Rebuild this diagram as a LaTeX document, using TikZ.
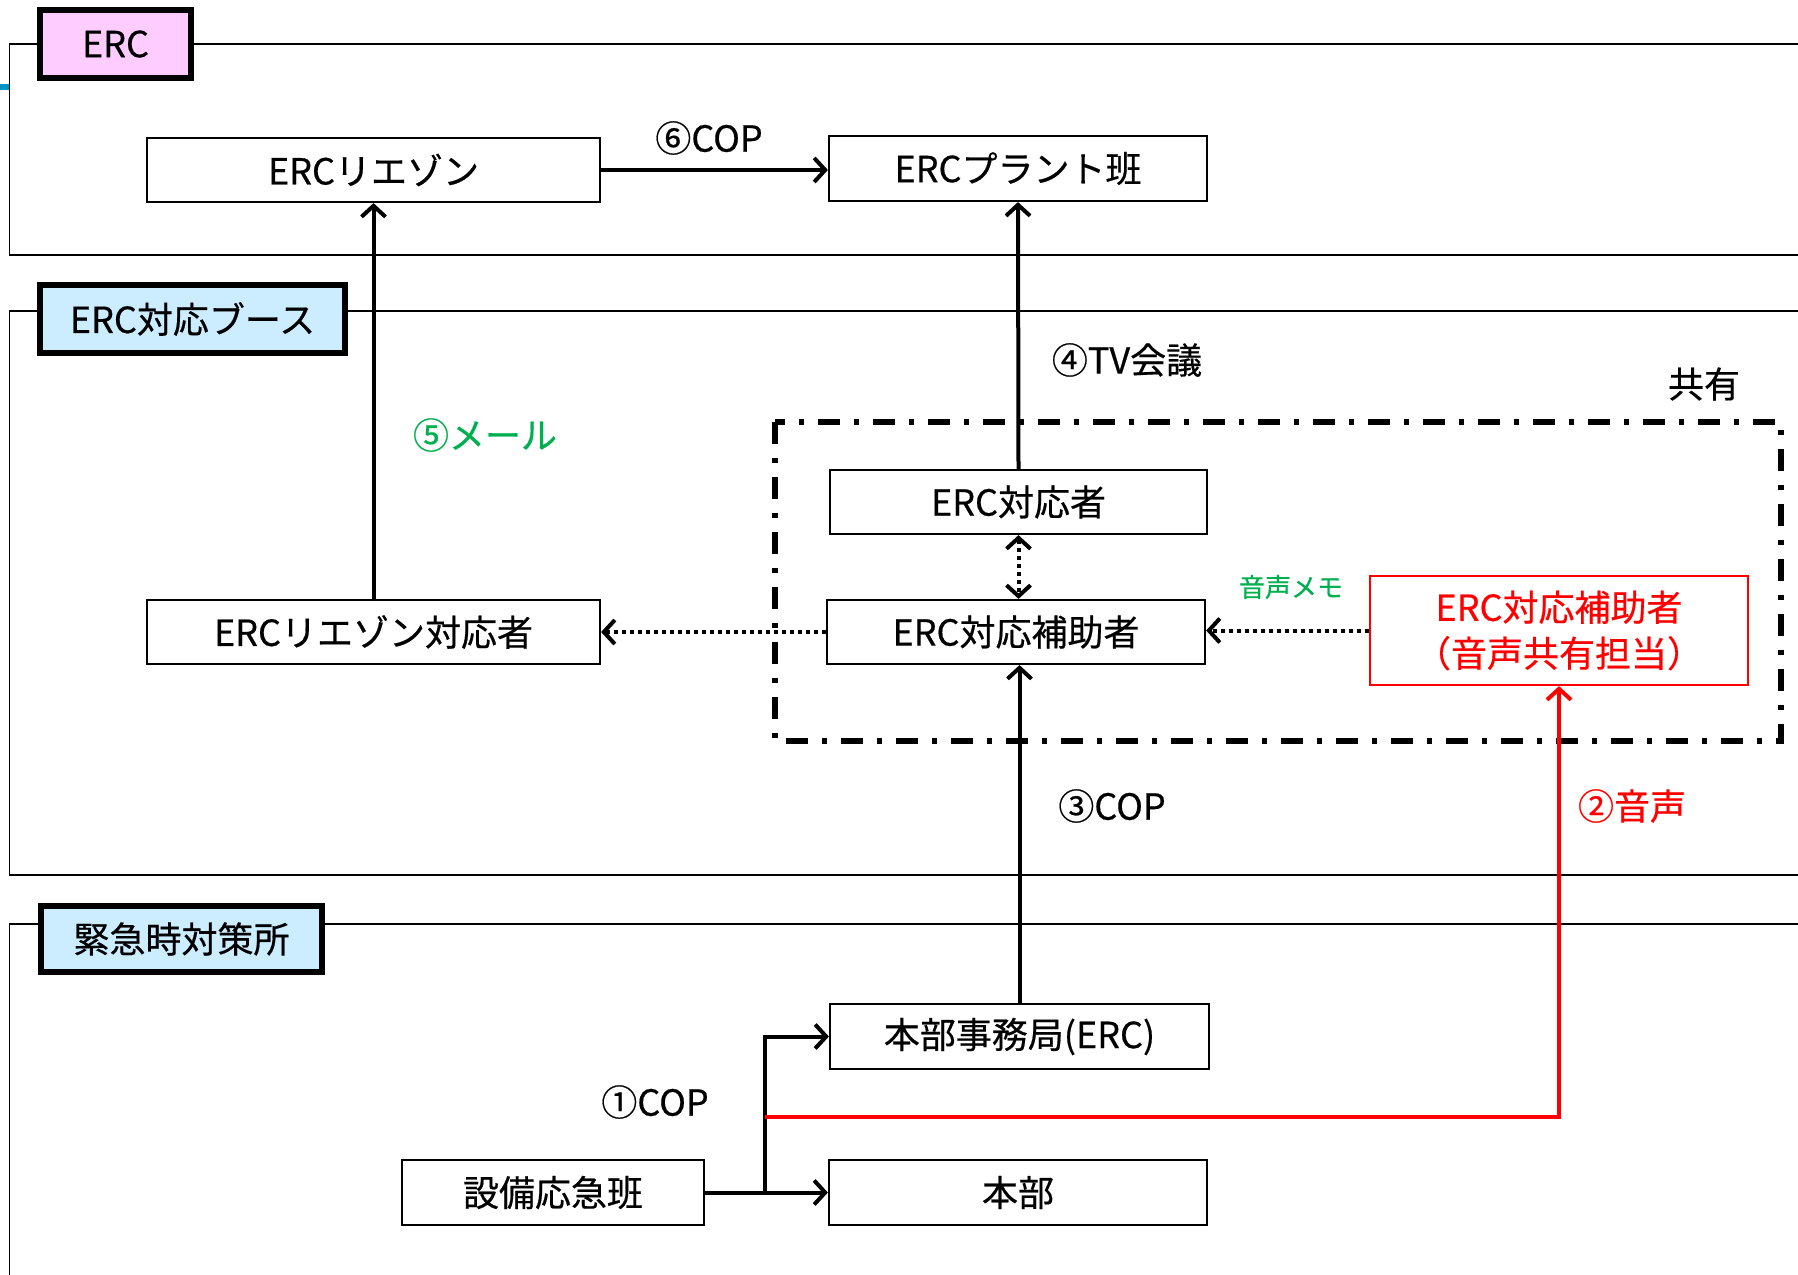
\documentclass[tikz,border=0pt]{standalone}
\usepackage{fontspec}
\setmainfont{Noto Sans CJK JP}[FakeBold=0.5]
\usetikzlibrary{arrows.meta}
\definecolor{lpink}{HTML}{FFCCFF}
\definecolor{lblue}{HTML}{CCECFF}
\definecolor{mgreen}{HTML}{00B050}
\definecolor{tickblue}{HTML}{0093C4}
\begin{document}
\begin{tikzpicture}[x=1pt,y=-1pt,
  box/.style={draw, line width=2.2pt, fill=white, inner sep=0pt,
    font=\fontsize{36}{40}\selectfont},
  grp/.style={draw, line width=5.5pt, inner sep=0pt,
    font=\fontsize{36}{40}\selectfont},
  frame/.style={draw, line width=1.8pt},
  tip/.style={Straight Barb[length=11pt,width=24pt]},
  arr/.style={line width=4pt, -{Straight Barb[length=11pt,width=24pt]}},
  darr/.style={line width=4pt, dash pattern=on 4pt off 4pt, -{Straight Barb[length=11pt,width=24pt]}},
  lbl/.style={inner sep=0pt, font=\fontsize{36}{40}\selectfont},
  shared/.style={line width=5.5pt, dash pattern=on 22pt off 14pt on 5pt off 14pt}
]
\useasboundingbox (0,0) rectangle (1798,1274);
\clip (0,0) rectangle (1798,1274);
\fill[white] (0,0) rectangle (1798,1274);

% group frames
\draw[frame] (1810,44) -- (9.5,44) -- (9.5,255) -- (1810,255);
\draw[frame] (1810,311) -- (9.5,311) -- (9.5,875) -- (1810,875);
\draw[frame] (1810,924) -- (9.5,924) -- (9.5,1290);
\fill[tickblue] (0,84) rectangle (9,90);

% group labels
\node[grp, fill=lpink, minimum width=151pt, minimum height=68pt] (gerc) at (115.5,44) {ERC};
\node[grp, fill=lblue, minimum width=305pt, minimum height=68pt] (gbooth) at (192.5,319) {ERC対応ブース};
\node[grp, fill=lblue, minimum width=281pt, minimum height=66pt] (gemg) at (181.5,939) {緊急時対策所};

% shared dash-dot region
\draw[shared] (775,422) rectangle (1781,741);
\node[lbl] (kyoyu) at (1704,384) {共有};

% boxes
\node[box, minimum width=453pt, minimum height=64pt] (liaison) at (373.5,170) {ERCリエゾン};
\node[box, minimum width=378pt, minimum height=65pt] (plant) at (1018,168.5) {ERCプラント班};
\node[box, minimum width=377pt, minimum height=64pt] (taiou) at (1018.5,502) {ERC対応者};
\node[box, minimum width=378pt, minimum height=64pt] (hojo) at (1016,632) {ERC対応補助者};
\node[box, minimum width=453pt, minimum height=64pt] (liaisonT) at (373.5,632) {ERCリエゾン対応者};
\node[box, draw=red, text=red, minimum width=378pt, minimum height=109pt, align=center,
  font=\fontsize{36}{46}\selectfont] (voice) at (1559,630.5) {ERC対応補助者\\（音声共有担当）};
\node[box, minimum width=379pt, minimum height=65pt] (jimu) at (1019.5,1036.5) {本部事務局(ERC)};
\node[box, minimum width=378pt, minimum height=65pt] (honbu) at (1018,1192.5) {本部};
\node[box, minimum width=302pt, minimum height=65pt] (setsubi) at (553,1192.5) {設備応急班};

% connectors
\coordinate (j) at (765,1192.5);
\coordinate (r0) at (765,1117);
\draw[arr] (setsubi.east) -- (honbu.west);
\draw[arr] (j) |- (jimu.west);
\draw[arr, red] (r0) -| (voice.south);
\draw[arr] (jimu.north) -- (jimu.north |- hojo.south);
\draw[darr] (voice.west) -- (voice.west -| hojo.east);
\draw[darr] (hojo.west) -- (hojo.west -| liaisonT.east);
\draw[darr, {Straight Barb[length=11pt,width=24pt]}-{Straight Barb[length=11pt,width=24pt]}] (taiou.south) -- (taiou.south |- hojo.north);
\draw[arr] (taiou.north) -- (plant.south);
\draw[arr] (liaisonT.north) -- (liaison.south);
\draw[arr] (liaison.east) -- (liaison.east -| plant.west);

% labels
\node[lbl] (l6) at (709,138) {⑥COP};
\node[lbl] (l4) at (1127,360) {④TV会議};
\node[lbl, text=mgreen] (l5) at (485,435) {⑤メール};
\node[lbl, text=mgreen, font=\fontsize{26}{30}\selectfont] (lmemo) at (1291,587) {音声メモ};
\node[lbl] (l3) at (1112,806) {③COP};
\node[lbl, text=red] (l2) at (1632,806) {②音声};
\node[lbl] (l1) at (655,1102) {①COP};
\end{tikzpicture}
\end{document}
